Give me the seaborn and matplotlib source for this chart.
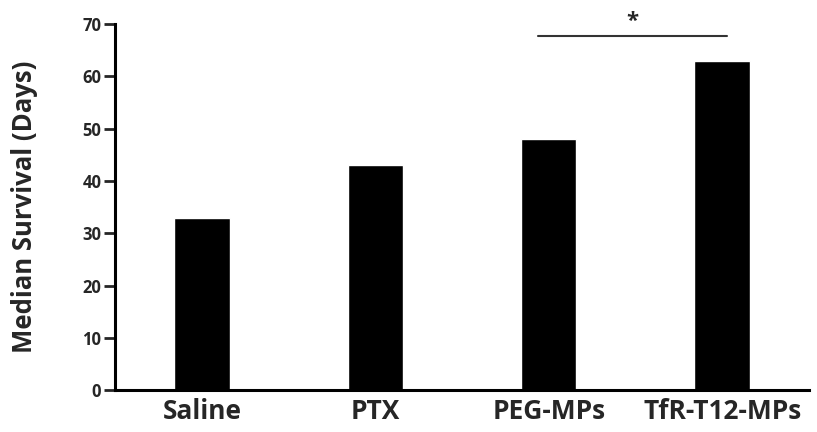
import pandas as pd
import seaborn as sns
import matplotlib.pyplot as plt

# Median survival per treatment group
groups = ['Saline', 'PTX', 'PEG-MPs', 'TfR-T12-MPs']
survival_days = [33, 43, 48, 63]
y_ticks = [0, 10, 20, 30, 40, 50, 60, 70]

df = pd.DataFrame({'group': groups, 'days': survival_days})

sns.set_style('white')
plt.rcParams['font.family'] = ['Open Sans', 'DejaVu Sans']
plt.rcParams['font.weight'] = 'bold'

fig = plt.figure(figsize=(8.17, 4.32), dpi=100)
ax = fig.add_axes([0.141, 0.097, 0.849, 0.847])

sns.barplot(data=df, x='group', y='days', color='black', width=0.32,
            saturation=1, ax=ax)

ax.set_ylim(0, 70)
ax.set_xlim(-0.5, 3.5)
ax.set_yticks(y_ticks)
ax.set_yticklabels([str(t) for t in y_ticks], fontsize=12, fontweight='bold')
ax.set_xticks(range(len(groups)))
ax.set_xticklabels(groups, fontsize=19, fontweight='bold')
ax.set_xlabel('')
ax.set_ylabel('Median Survival (Days)', fontsize=18.5, fontweight='bold')
ax.yaxis.set_label_coords(-0.112, 0.5)

sns.despine(ax=ax)
for side in ['left', 'bottom']:
    ax.spines[side].set_linewidth(2.2)
    ax.spines[side].set_color('black')
ax.tick_params(axis='y', direction='out', length=8, width=2, left=True, pad=2)
ax.tick_params(axis='x', length=0, pad=6)

# significance bar between PEG-MPs and TfR-T12-MPs
ax.plot([1.94, 3.03], [67.7, 67.7], color='#333333', lw=1.5, clip_on=False)
ax.text(2.48, 68.6, '*', ha='center', va='bottom', fontsize=16,
        fontweight='bold', clip_on=False)

fig.savefig('out.png', dpi=100)
